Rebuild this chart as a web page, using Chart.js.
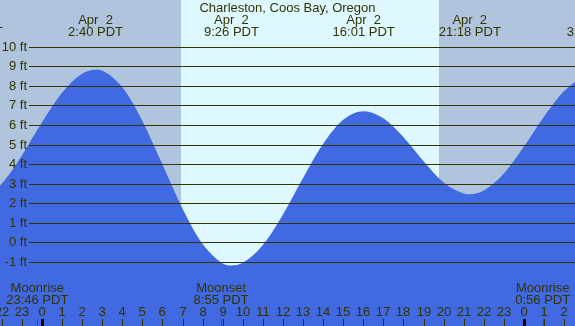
<!DOCTYPE html>
<html>
<head>
<meta charset="utf-8">
<title>Charleston, Coos Bay, Oregon</title>
<script src="https://cdn.jsdelivr.net/npm/chart.js@4/dist/chart.umd.min.js"></script>
<style>
  html, body { margin: 0; padding: 0; background: #b0c4de; overflow: hidden; }
  canvas { display: block; }
</style>
</head>
<body>
<canvas id="tideChart" width="575" height="326"></canvas>
<script>
// 1. Data (hours from midnight Apr 2, heights in feet)
const tideHours = [-4, -3.5, -3, -2, -1, 0, 1, 2, 2.667, 3, 4, 5, 6, 7, 8, 9, 9.433, 10, 11, 12, 13, 14, 15, 16.017, 17, 18, 19, 20, 21, 21.3, 22, 23, 24, 25, 26, 27, 27.5];
const tideFeet  = [2.15, 2.1, 2.21, 3.03, 4.47, 6.16, 7.68, 8.65, 8.85, 8.80, 7.95, 6.23, 4.00, 1.74, -0.07, -1.06, -1.17, -1.03, -0.12, 1.44, 3.31, 5.06, 6.29, 6.73, 6.37, 5.40, 4.17, 3.08, 2.52, 2.48, 2.67, 3.54, 4.92, 6.46, 7.76, 8.50, 8.6];

// high / low labels along the top
const extremeHours = [-3.5, 2.667, 9.433, 16.017, 21.3, 27.5];
const extremeDates = ['Apr  1', 'Apr  2', 'Apr  2', 'Apr  2', 'Apr  2', 'Apr  3'];
const extremeTimes = ['20:30 PDT', '2:40 PDT', '9:26 PDT', '16:01 PDT', '21:18 PDT', '3:30 PDT'];

// sun and moon
const sunrise = 6.917;
const sunset = 19.767;
const moonHours = [-0.233, 8.917, 24.933];
const moonNames = ['Moonrise', 'Moonset', 'Moonrise'];
const moonTimes = ['23:46 PDT', '8:55 PDT', '0:56 PDT'];

// axis
const feetTicks = [-1, 0, 1, 2, 3, 4, 5, 6, 7, 8, 9, 10];
const hourTicks = [-2, -1, 0, 1, 2, 3, 4, 5, 6, 7, 8, 9, 10, 11, 12, 13, 14, 15, 16, 17, 18, 19, 20, 21, 22, 23, 24, 25, 26];

const title = 'Charleston, Coos Bay, Oregon';
const FONT = '13px "Liberation Sans", Arial, sans-serif';
const TEXT = '#333300';

// 2. Drawing extras (background, grid, labels)
const tideDecor = {
    id: 'tideDecor',
    beforeDraw(chart) {
        const ctx = chart.ctx;
        const xs = chart.scales.x;
        const x1 = Math.round(xs.getPixelForValue(sunrise));
        const x2 = Math.round(xs.getPixelForValue(sunset));
        ctx.save();
        ctx.fillStyle = '#b0c4de';
        ctx.fillRect(0, 0, chart.width, chart.height);
        ctx.fillStyle = '#ddf8ff';
        ctx.fillRect(x1, 0, x2 - x1, chart.height);
        ctx.restore();
    },
    afterDatasetsDraw(chart) {
        const ctx = chart.ctx;
        const xs = chart.scales.x;
        const ys = chart.scales.y;
        ctx.save();
        ctx.font = FONT;
        ctx.fillStyle = TEXT;

        // horizontal lines + feet labels
        ctx.strokeStyle = '#333300';
        ctx.lineWidth = 1;
        feetTicks.forEach(f => {
            const y = Math.floor(ys.getPixelForValue(f)) + 0.5;
            ctx.beginPath();
            ctx.moveTo(29, y);
            ctx.lineTo(chart.width, y);
            ctx.stroke();
            ctx.textAlign = 'right';
            ctx.textBaseline = 'middle';
            ctx.fillText(f + ' ft', 27, y);
        });

        // title and high/low times
        ctx.textAlign = 'center';
        ctx.textBaseline = 'alphabetic';
        ctx.fillText(title, chart.width / 2, 12);
        extremeHours.forEach((h, i) => {
            const x = xs.getPixelForValue(h);
            ctx.fillText(extremeDates[i], x, 24);
            ctx.fillText(extremeTimes[i], x, 36);
        });

        // moon events
        moonHours.forEach((h, i) => {
            const x = xs.getPixelForValue(h);
            ctx.fillText(moonNames[i], x, 292);
            ctx.fillText(moonTimes[i], x, 304);
        });

        // hour labels and ticks
        hourTicks.forEach(h => {
            const x = Math.round(xs.getPixelForValue(h));
            const label = ((h % 24) + 24) % 24;
            ctx.fillStyle = TEXT;
            ctx.fillText(String(label), x, 316);
            if (label === 0) {
                ctx.fillStyle = '#000000';
                ctx.fillRect(x - 1, 319, 3, 7);
            } else {
                ctx.fillStyle = '#333300';
                ctx.fillRect(x, 319, 1, 7);
            }
        });
        ctx.fillStyle = '#ff0000';
        moonHours.forEach(h => {
            const x = Math.round(xs.getPixelForValue(h));
            ctx.fillRect(x, 319, 1, 7);
        });
        ctx.restore();
    }
};

// 3. Chart
const ctx = document.getElementById('tideChart').getContext('2d');
const tideChart = new Chart(ctx, {
    type: 'line',
    data: {
        datasets: [{
            data: tideHours.map((h, i) => ({ x: h, y: tideFeet[i] })),
            fill: 'start',
            backgroundColor: '#4169e1',
            borderColor: 'rgba(0,0,0,0)',
            borderWidth: 0,
            pointRadius: 0,
            cubicInterpolationMode: 'monotone'
        }]
    },
    options: {
        responsive: false,
        animation: false,
        devicePixelRatio: 1,
        layout: { padding: 0 },
        plugins: { legend: { display: false }, tooltip: { enabled: false } },
        scales: {
            x: { type: 'linear', min: -2.09, max: 26.54, display: false },
            y: { type: 'linear', min: -4.26, max: 12.42, display: false }
        }
    },
    plugins: [tideDecor]
});
</script>
</body>
</html>
